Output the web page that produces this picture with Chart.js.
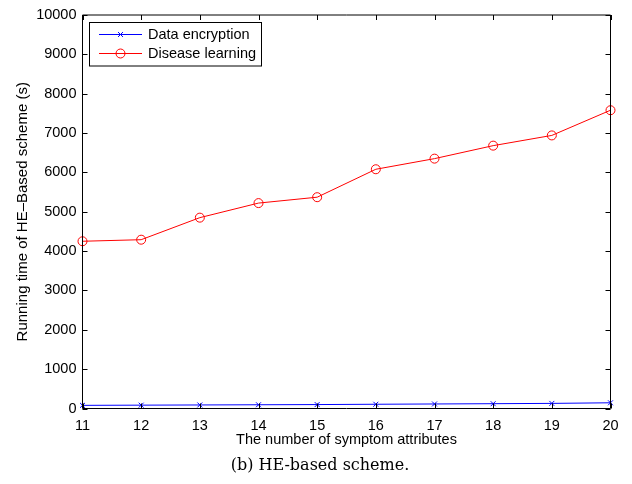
<!DOCTYPE html>
<html>
<head>
<meta charset="utf-8">
<script src="https://cdn.jsdelivr.net/npm/chart.js@4.4.1/dist/chart.umd.min.js"></script>
<style>
  html, body { margin: 0; padding: 0; background: #fff; }
  canvas { display: block; }
</style>
</head>
<body>
<canvas id="chart" width="632" height="484"></canvas>
<script>
// number of symptom attributes
const attributes = [11, 12, 13, 14, 15, 16, 17, 18, 19, 20];
// running time (s)
const dataEncryption = [80, 85, 90, 95, 100, 108, 115, 122, 130, 145];
const diseaseLearning = [4250, 4290, 4850, 5220, 5370, 6080, 6350, 6680, 6940, 7580];

const yTicks = [0, 1000, 2000, 3000, 4000, 5000, 6000, 7000, 8000, 9000, 10000];
const seriesNames = ['Data encryption', 'Disease learning'];

const FONT = 'Liberation Sans, Arial, Helvetica, sans-serif';

// matlab-style frame: box, inward ticks on every side, titles, legend, caption
const framePlugin = {
  id: 'frame',
  afterDraw(chart) {
    const { ctx, chartArea: a, scales } = chart;
    const x = scales.x, y = scales.y;
    const tl = 5;
    ctx.save();
    ctx.strokeStyle = '#000';
    ctx.lineWidth = 1;
    ctx.beginPath();
    ctx.rect(a.left, a.top, a.right - a.left, a.bottom - a.top);
    ctx.stroke();

    ctx.beginPath();
    attributes.forEach(v => {
      const px = Math.round(x.getPixelForValue(v)) + 0.5;
      ctx.moveTo(px, a.bottom); ctx.lineTo(px, a.bottom - tl);
      ctx.moveTo(px, a.top); ctx.lineTo(px, a.top + tl);
    });
    yTicks.forEach(v => {
      const py = Math.round(y.getPixelForValue(v)) + 0.5;
      ctx.moveTo(a.left, py); ctx.lineTo(a.left + tl, py);
      ctx.moveTo(a.right, py); ctx.lineTo(a.right - tl, py);
    });
    ctx.stroke();

    // axis titles
    ctx.fillStyle = '#000';
    ctx.textAlign = 'center';
    ctx.textBaseline = 'middle';
    ctx.font = '14.5px ' + FONT;
    ctx.fillText('The number of symptom attributes', (a.left + a.right) / 2, 440);
    ctx.save();
    ctx.translate(23, (a.top + a.bottom) / 2);
    ctx.rotate(-Math.PI / 2);
    ctx.font = '15px ' + FONT;
    ctx.fillText('Running time of HE\u2013Based scheme (s)', 0, 0);
    ctx.restore();

    // legend
    ctx.font = '14.5px ' + FONT;
    const lx = 89.5, ly = 22.5, lw = 172, lh = 43.5;
    ctx.fillStyle = '#fff';
    ctx.fillRect(lx, ly, lw, lh);
    ctx.strokeRect(lx, ly, lw, lh);
    const rows = [34, 53];
    chart.data.datasets.forEach((ds, i) => {
      const ry = rows[i] + 0.5;
      ctx.strokeStyle = ds.borderColor;
      ctx.fillStyle = 'rgba(0,0,0,0)';
      ctx.lineWidth = 1;
      ctx.beginPath();
      ctx.moveTo(99, ry); ctx.lineTo(142, ry);
      ctx.stroke();
      Chart.helpers.drawPoint(ctx, {
        pointStyle: ds.pointStyle, radius: ds.pointRadius, borderWidth: 1
      }, 120.5, ry);
      ctx.fillStyle = '#000';
      ctx.textAlign = 'left';
      ctx.fillText(seriesNames[i], 148, rows[i] + 1);
    });

    // caption
    ctx.fillStyle = '#000';
    ctx.textAlign = 'center';
    ctx.font = '16px DejaVu Serif, serif';
    ctx.fillText('(b) HE-based scheme.', 320, 466);
    ctx.restore();
  }
};

new Chart(document.getElementById('chart'), {
  type: 'line',
  data: {
    datasets: [
      {
        label: seriesNames[0],
        data: attributes.map((a, i) => ({ x: a, y: dataEncryption[i] })),
        borderColor: '#0000ff',
        backgroundColor: 'transparent',
        borderWidth: 1,
        pointStyle: 'crossRot',
        pointRadius: 3.5,
        pointBorderWidth: 1,
        pointBorderColor: '#0000ff',
        tension: 0
      },
      {
        label: seriesNames[1],
        data: attributes.map((a, i) => ({ x: a, y: diseaseLearning[i] })),
        borderColor: '#ff0000',
        backgroundColor: 'transparent',
        borderWidth: 1,
        pointStyle: 'circle',
        pointRadius: 4.5,
        pointBorderWidth: 1,
        pointBorderColor: '#ff0000',
        pointBackgroundColor: 'transparent',
        tension: 0
      }
    ]
  },
  options: {
    responsive: false,
    animation: false,
    clip: false,
    layout: { padding: { top: 15, right: 21.5, left: 0, bottom: 0 } },
    plugins: { legend: { display: false }, tooltip: { enabled: false } },
    scales: {
      x: {
        type: 'linear',
        min: 11,
        max: 20,
        afterFit(scale) { scale.height = 75.5; },
        afterBuildTicks(scale) { scale.ticks = attributes.map(v => ({ value: v })); },
        grid: { display: false, drawTicks: false },
        border: { display: false },
        ticks: {
          color: '#000', font: { family: FONT, size: 14.5 }, padding: 9, maxRotation: 0,
          callback: v => String(v)
        }
      },
      y: {
        min: 0,
        max: 10000,
        afterFit(scale) { scale.width = 82.5; },
        afterBuildTicks(scale) { scale.ticks = yTicks.map(v => ({ value: v })); },
        grid: { display: false, drawTicks: false },
        border: { display: false },
        ticks: {
          color: '#000', font: { family: FONT, size: 14.5 }, padding: 6,
          callback: v => String(v)
        }
      }
    }
  },
  plugins: [framePlugin]
});
</script>
</body>
</html>
